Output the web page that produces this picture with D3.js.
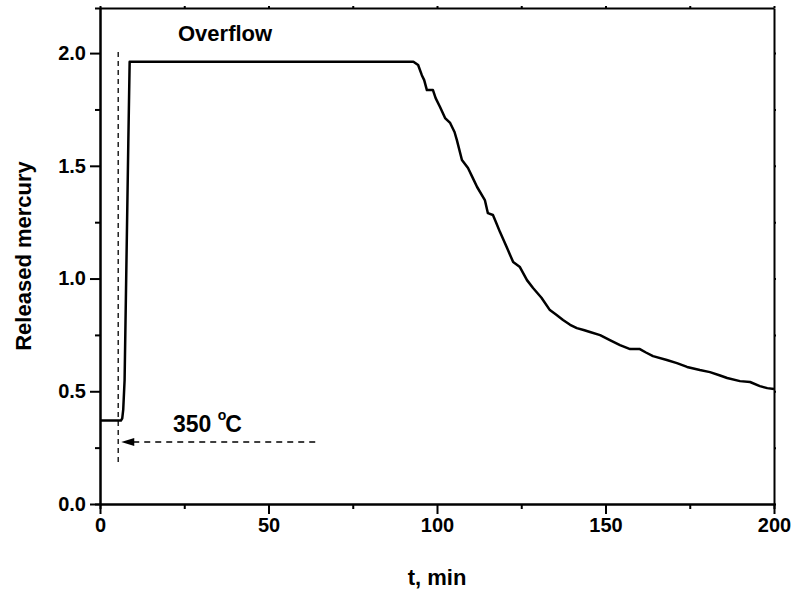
<!DOCTYPE html>
<html>
<head>
<meta charset="utf-8">
<script src="https://cdn.jsdelivr.net/npm/d3@7"></script>
<style>
  body { margin: 0; background: #fff; }
  svg { display: block; }
  text { font-family: 'Liberation Sans', Arial, sans-serif; font-weight: bold; fill: #000; }
  .tick text { font-size: 20px; }
  .axis path, .axis line { stroke: #000; stroke-width: 2; }
</style>
</head>
<body>
<div id="chart"></div>
<script>
'use strict';
// Data
const timeMin = [0, 3, 6.2, 6.6, 6.9, 7.3, 8.4, 8.8, 20, 40, 60, 80, 93.0, 94.4, 95.5, 96.2, 97.0, 98.8, 99.6, 100.9, 102.4,
  103.9, 105.2, 105.9, 107.4, 109.2, 110.5, 111.9, 114.2, 115.1, 116.6, 117.5, 118.7, 120.8, 122.6, 124.6, 126.7, 128.5,
  131.0, 133.5, 135.5, 137.4, 139.5, 141.5, 143.5, 145.4, 148.4, 151.3, 154.3, 157.3, 160.2, 162.0, 164.1, 168.2,
  171.2, 174.2, 178.0, 181.0, 184.0, 186.1, 189.9, 192.9, 195.8, 198.0, 200]
const released = [0.37, 0.37, 0.37, 0.38, 0.42, 0.55, 1.60, 1.962, 1.962, 1.962, 1.962, 1.962, 1.962, 1.947, 1.902, 1.880,
  1.836, 1.836, 1.800, 1.761, 1.712, 1.690, 1.650, 1.614, 1.526, 1.490, 1.450, 1.406, 1.348, 1.290, 1.282, 1.250,
  1.206, 1.135, 1.073, 1.051, 0.993, 0.958, 0.915, 0.860, 0.838, 0.816, 0.795, 0.780, 0.772, 0.763, 0.749, 0.727,
  0.705, 0.687, 0.687, 0.672, 0.656, 0.639, 0.625, 0.608, 0.594, 0.585, 0.570, 0.559, 0.545, 0.541, 0.523, 0.514, 0.510]
const xMajor = [0, 50, 100, 150, 200]
const xMinor = [25, 75, 125, 175]
const yMajor = [0, 0.5, 1.0, 1.5, 2.0]
const yMinor = [0.25, 0.75, 1.25, 1.75]
const markerT = 5.4          // dashed vertical marker
const markerSpan = [0.186, 2.02]
const arrowLevel = 0.275     // dashed arrow
const arrowSpan = [6.3, 64.7]

const width = 796
const height = 594
const x = d3.scaleLinear().domain([0, 200]).range([100, 774])
const y = d3.scaleLinear().domain([0, 2.2]).range([504, 8])

const svg = d3.select('#chart').append('svg')
  .attr('width', width)
  .attr('height', height)

// Minor ticks (short, outward)
svg.append('g').attr('class', 'axis')
  .attr('transform', `translate(0,${y(0)})`)
  .call(d3.axisBottom(x).tickValues(xMinor).tickSize(5).tickFormat(''))
svg.append('g').attr('class', 'axis')
  .attr('transform', `translate(${x(0)},0)`)
  .call(d3.axisLeft(y).tickValues(yMinor).tickSize(5).tickFormat(''))

// Top and right frame with tiny ticks
svg.append('g').attr('class', 'axis')
  .attr('transform', `translate(0,${y(2.2)})`)
  .call(d3.axisTop(x).tickValues(xMajor.concat(xMinor)).tickSize(2).tickSizeOuter(0).tickFormat(''))
svg.append('g').attr('class', 'axis')
  .attr('transform', `translate(${x(200)},0)`)
  .call(d3.axisRight(y).tickValues(yMajor.concat(yMinor)).tickSize(2).tickSizeOuter(0).tickFormat(''))

// Main axes
svg.append('g').attr('class', 'axis')
  .attr('transform', `translate(0,${y(0)})`)
  .call(d3.axisBottom(x).tickValues(xMajor).tickSize(10).tickSizeOuter(0).tickPadding(4).tickFormat(d3.format('d')))
svg.append('g').attr('class', 'axis')
  .attr('transform', `translate(${x(0)},0)`)
  .call(d3.axisLeft(y).tickValues(yMajor).tickSize(10).tickSizeOuter(0).tickPadding(4).tickFormat(d3.format('.1f')))

// Axis titles
svg.append('text')
  .attr('x', (x(0) + x(200)) / 2)
  .attr('y', 585)
  .attr('text-anchor', 'middle')
  .style('font-size', '22px')
  .text('t, min')
svg.append('text')
  .attr('transform', `translate(31,${(y(0) + y(2.2)) / 2}) rotate(-90)`)
  .attr('text-anchor', 'middle')
  .style('font-size', '22px')
  .text('Released mercury')

// Dashed vertical marker
svg.append('line')
  .attr('x1', x(markerT)).attr('x2', x(markerT))
  .attr('y1', y(markerSpan[0])).attr('y2', y(markerSpan[1]))
  .attr('stroke', '#000')
  .attr('stroke-width', 1.3)
  .attr('stroke-dasharray', '5,4')

// Dashed arrow pointing left
svg.append('line')
  .attr('x1', x(arrowSpan[0]) + 12).attr('x2', x(arrowSpan[1]))
  .attr('y1', y(arrowLevel)).attr('y2', y(arrowLevel))
  .attr('stroke', '#000')
  .attr('stroke-width', 1.3)
  .attr('stroke-dasharray', '6,5')
const tipX = x(arrowSpan[0])
const tipY = y(arrowLevel)
svg.append('path')
  .attr('d', `M ${tipX} ${tipY} L ${tipX + 13} ${tipY - 4} L ${tipX + 13} ${tipY + 4} Z`)
  .attr('fill', '#000')

// Data line
const line = d3.line()
  .x((d, i) => x(timeMin[i]))
  .y(d => y(d))
svg.append('path').datum(released)
  .attr('d', line)
  .attr('fill', 'none')
  .attr('stroke', '#000')
  .attr('stroke-width', 2.5)
  .attr('stroke-linejoin', 'round')

// Annotations
svg.append('text')
  .attr('x', 178)
  .attr('y', 41)
  .style('font-size', '22px')
  .text('Overflow')

const label = svg.append('text')
  .attr('x', 173)
  .attr('y', 432)
  .style('font-size', '23px')
label.append('tspan').text('350 ')
label.append('tspan').attr('dy', -12).style('font-size', '14px').text('o')
label.append('tspan').attr('dy', 12).attr('dx', -1).text('C')
</script>
</body>
</html>
